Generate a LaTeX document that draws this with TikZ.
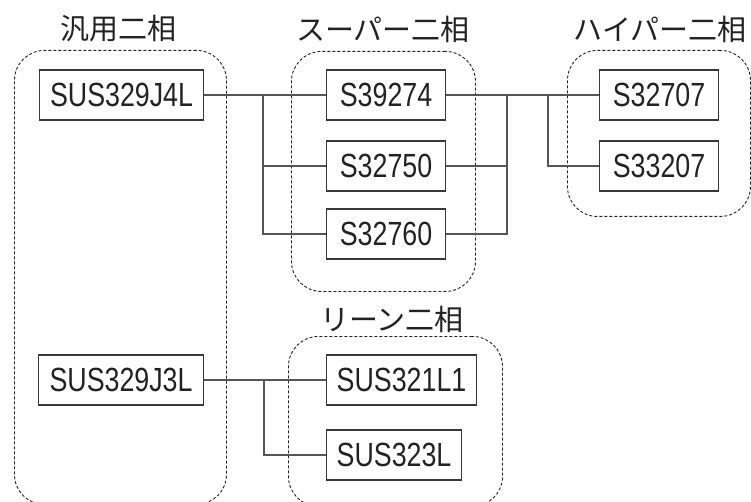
\documentclass[tikz,border=0pt]{standalone}
\usepackage{fontspec}
\setmainfont{Liberation Sans}[FakeStretch=0.8]
\newfontfamily\jp{Noto Sans CJK JP}
\usetikzlibrary{positioning}
\definecolor{ink}{HTML}{222222}
\definecolor{conn}{HTML}{555555}
\tikzset{
  x=1pt, y=-1pt,
  matbox/.style={draw=ink!90, line width=1.1pt, minimum height=50pt, inner sep=0pt,
    anchor=west, text=ink, font=\fontsize{33.5}{36}\selectfont},
  grp/.style={draw=ink, line width=0.9pt, dash pattern=on 3pt off 2pt, rounded corners=30pt,
    anchor=north west, minimum width=#1, inner sep=0pt},
  grptitle/.style={text=ink, font=\jp\fontsize{29}{32}\selectfont, inner sep=0pt},
  link/.style={draw=conn, line width=1.3pt},
}
\begin{document}
\begin{tikzpicture}
\useasboundingbox (0,0) rectangle (751,502);
% groups
\node[grp=212pt, minimum height=454pt] (g1) at (14,50) {};
\node[grp=184pt, minimum height=240pt] (g2) at (291,51) {};
\node[grp=183pt, minimum height=166pt] (g3) at (567,50) {};
\node[grp=214pt, minimum height=170pt] (g4) at (288,336) {};
% titles
\node[grptitle] (t1) at (118,29) {汎用二相};
\node[grptitle] (t2) at (383,29) {スーパー二相};
\node[grptitle] (t3) at (660,29) {ハイパー二相};
\node[grptitle] (t4) at (392,319) {リーン二相};
% boxes
\node[matbox, minimum width=164pt] (j4l) at (39,95) {SUS329J4L};
\node[matbox, minimum width=119pt] (s39274) at (326,95) {S39274};
\node[matbox, minimum width=119pt] (s32750) at (326,166) {S32750};
\node[matbox, minimum width=119pt] (s32760) at (326,234) {S32760};
\node[matbox, minimum width=119pt] (s32707) at (599,95) {S32707};
\node[matbox, minimum width=119pt] (s33207) at (599,166) {S33207};
\node[matbox, minimum width=165pt] (j3l) at (38,380) {SUS329J3L};
\node[matbox, minimum width=150pt] (s321) at (326,380) {SUS321L1};
\node[matbox, minimum width=135pt] (s323) at (326,455) {SUS323L};
% branch points
\coordinate (b1) at (263,95);
\coordinate (b2) at (507,95);
\coordinate (b3) at (548,95);
\coordinate (b4) at (264,380);
% connectors
\draw[link] (j4l.east) -- (s39274.west);
\draw[link] (b1) |- (s32750.west);
\draw[link] (b1) |- (s32760.west);
\draw[link] (s39274.east) -- (s32707.west);
\draw[link] (s32750.east) -| (b2);
\draw[link] (s32760.east) -| (b2);
\draw[link] (b3) |- (s33207.west);
\draw[link] (j3l.east) -- (s321.west);
\draw[link] (b4) |- (s323.west);
\end{tikzpicture}
\end{document}
